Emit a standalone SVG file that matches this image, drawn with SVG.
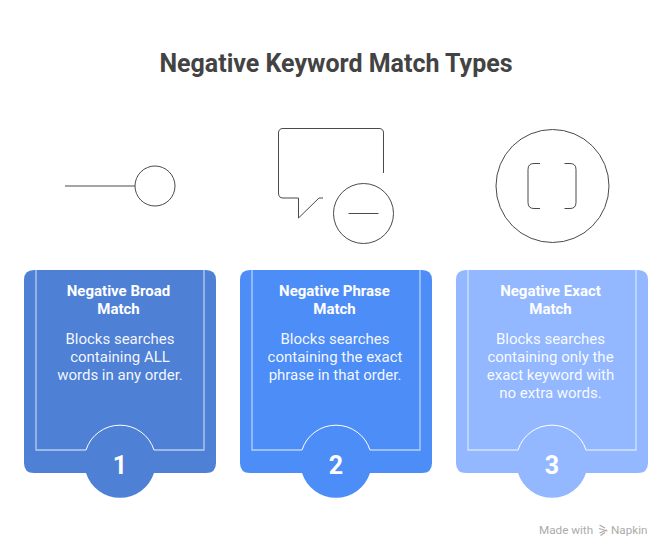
<svg xmlns="http://www.w3.org/2000/svg" width="672" height="558" viewBox="0 0 672 558">
<style>
text{font-family:Roboto,"Liberation Sans",sans-serif;text-anchor:middle;fill:#fff}
.title{font-size:25px;font-weight:700;fill:#434343}
.head{font-size:15px;font-weight:700}
.body{font-size:15px;fill:#fff;fill-opacity:.94}
.num{font-size:25px;font-weight:700}
.inner{fill:none;stroke:#fff;stroke-opacity:.6;stroke-width:1.3}
.arc{fill:none;stroke:#fff;stroke-width:1}
.icon{fill:none;stroke:#4a4a4a;stroke-width:1}
.credit{font-size:11.7px;fill:#ababab;text-anchor:start}
</style>
<rect width="672" height="558" fill="#fff"/>
<text class="title" x="336" y="72">Negative Keyword Match Types</text>
<g id="icon-broad">
<path class="icon" d="M65 186H135"/>
<circle class="icon" cx="155" cy="186" r="20"/>
</g>
<g id="icon-phrase">
<path class="icon" d="M383.500 173V133Q383.500 128.500 379 128.500H283Q278.500 128.500 278.500 133V193Q278.500 198 283 198H298.500V218L319 198H323"/>
<circle class="icon" cx="363.500" cy="213.500" r="30"/>
<path class="icon" d="M348.500 213.500H378.500"/>
</g>
<g id="icon-exact">
<circle class="icon" cx="552.500" cy="186" r="56.500"/>
<path class="icon" d="M540 163.500H534Q528 163.500 528 169.500V202.500Q528 208.500 534 208.500H540M564.500 163.500H570Q576 163.500 576 169.500V202.500Q576 208.500 570 208.500H564.500"/>
</g>
<g id="card-1">
<path fill="#4e80d6" d="M34 270H206Q216 270 216 280V463Q216 473 206 473H154A35.700 35.700 0 0 1 86 473H34Q24 473 24 463V280Q24 270 34 270Z"/>
<path class="inner" d="M36 270V450H86M154 450H204V270"/>
<path class="arc" d="M86 450A35.700 35.700 0 0 1 154 450"/>
<text class="head" x="118.500" y="296">Negative Broad</text>
<text class="head" x="118.500" y="314">Match</text>
<text class="body" x="120" y="344">Blocks searches</text>
<text class="body" x="120" y="362">containing ALL</text>
<text class="body" x="120" y="380">words in any order.</text>
<text class="num" x="120" y="474">1</text>
</g>
<g id="card-2">
<path fill="#4d8df8" d="M250 270H422Q432 270 432 280V463Q432 473 422 473H370A35.700 35.700 0 0 1 302 473H250Q240 473 240 463V280Q240 270 250 270Z"/>
<path class="inner" d="M252 270V450H302M370 450H420V270"/>
<path class="arc" d="M302 450A35.700 35.700 0 0 1 370 450"/>
<text class="head" x="334.500" y="296">Negative Phrase</text>
<text class="head" x="334.500" y="314">Match</text>
<text class="body" x="335" y="344">Blocks searches</text>
<text class="body" x="335" y="362">containing the exact</text>
<text class="body" x="335" y="380">phrase in that order.</text>
<text class="num" x="336" y="474">2</text>
</g>
<g id="card-3">
<path fill="#93b8ff" d="M466 270H638Q648 270 648 280V463Q648 473 638 473H586A35.700 35.700 0 0 1 518 473H466Q456 473 456 463V280Q456 270 466 270Z"/>
<path class="inner" d="M468 270V450H518M586 450H636V270"/>
<path class="arc" d="M518 450A35.700 35.700 0 0 1 586 450"/>
<text class="head" x="550.500" y="296">Negative Exact</text>
<text class="head" x="550.500" y="314">Match</text>
<text class="body" x="550.500" y="344">Blocks searches</text>
<text class="body" x="550.500" y="362">containing only the</text>
<text class="body" x="550.500" y="380">exact keyword with</text>
<text class="body" x="550.500" y="398">no extra words.</text>
<text class="num" x="552" y="474">3</text>
</g>
<g id="credit">
<text class="credit" x="539" y="534">Made with</text>
<path fill="none" stroke="#ababab" stroke-width="1.300" d="M599.500 525L605 528M599 528.500L607.500 531M607 530L599.500 533M605 532.500L600.500 535.500"/>
<text class="credit" x="611" y="534">Napkin</text>
</g>
</svg>
